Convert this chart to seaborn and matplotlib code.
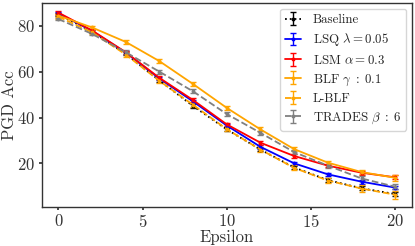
import matplotlib
matplotlib.use("Agg")
import matplotlib.pyplot as plt
import seaborn as sns
import numpy as np

eps = [0, 2, 4, 6, 8, 10, 12, 14, 16, 18, 20]
baseline = [85.0, 77.5, 67.8, 56.2, 45.0, 34.8, 26.0, 18.2, 12.7, 9.1, 6.6]
lsq      = [85.5, 77.8, 68.3, 57.0, 47.0, 36.5, 27.2, 20.0, 15.2, 12.0, 9.4]
lsm      = [85.8, 78.0, 68.5, 57.3, 47.6, 37.0, 29.0, 23.2, 19.0, 15.9, 13.9]
blf      = [84.5, 79.3, 73.0, 64.6, 54.6, 44.2, 34.8, 26.2, 20.3, 16.2, 13.7]
lblf     = [84.0, 77.2, 67.5, 56.0, 45.5, 34.9, 26.0, 18.0, 12.5, 9.0, 6.3]
trades   = [83.0, 76.5, 68.5, 60.0, 51.4, 41.5, 33.3, 24.9, 19.0, 13.4, 9.8]

err_baseline = [0.6, 0.6, 0.7, 0.7, 0.8, 0.8, 0.8, 0.8, 0.8, 0.8, 0.8]
err_lsq      = [0.6, 0.6, 0.7, 0.7, 0.8, 0.8, 0.8, 0.8, 0.8, 0.8, 0.8]
err_lsm      = [0.6, 0.6, 0.7, 0.7, 0.8, 0.8, 0.8, 0.8, 0.8, 0.8, 0.8]
err_blf      = [0.8, 0.8, 0.8, 0.8, 0.9, 0.9, 0.9, 0.9, 0.9, 1.0, 1.2]
err_lblf     = [0.8, 0.8, 0.9, 0.9, 1.0, 1.0, 1.0, 1.1, 1.2, 1.4, 1.8]
err_trades   = [0.6, 0.7, 0.8, 0.8, 0.9, 0.9, 0.9, 0.9, 0.9, 1.0, 1.0]

labels = ["Baseline", r"LSQ $\lambda=0.05$", r"LSM $\alpha=0.3$",
          r"BLF $\gamma\;:\;0.1$", "L-BLF", r"TRADES $\beta\;:\;6$"]

sns.set_theme(style="white")
plt.rcParams.update({
    "font.family": "serif",
    "font.serif": ["cmr10"],
    "mathtext.fontset": "cm",
    "axes.formatter.use_mathtext": True,
    "axes.edgecolor": "#333333",
    "axes.linewidth": 1.0,
    "xtick.bottom": True,
    "ytick.left": True,
    "xtick.major.size": 2.5,
    "ytick.major.size": 2.5,
    "xtick.color": "#333333",
    "ytick.color": "#333333",
})

fig, ax = plt.subplots(figsize=(4.15, 2.46), dpi=100)

series = [
    (baseline, err_baseline, "black", ":"),
    (lsq, err_lsq, "blue", "-"),
    (lsm, err_lsm, "red", "-"),
    (blf, err_blf, "orange", "-"),
    (lblf, err_lblf, "orange", "--"),
    (trades, err_trades, "gray", "--"),
]
for (vals, err, col, ls), lab in zip(series, labels):
    ax.errorbar(eps, vals, yerr=err, color=col, linestyle=ls, linewidth=1.3,
                marker="o", markersize=1.8, capsize=2.5, elinewidth=1.0,
                label=lab)

ax.set_xlim(-1, 21)
ax.set_ylim(1, 90)
ax.set_xticks([0, 5, 10, 15, 20])
ax.set_yticks([20, 40, 60, 80])
ax.tick_params(labelsize=12, colors="#333333", pad=2)
ax.set_xlabel("Epsilon", fontsize=12, color="#333333", labelpad=0)
ax.set_ylabel("PGD Acc", fontsize=12, color="#333333", labelpad=0)
ax.legend(loc="upper right", fontsize=9.3, frameon=True, handlelength=1.25,
          borderaxespad=0.45, labelspacing=0.42, handletextpad=0.9,
          borderpad=0.4)

fig.subplots_adjust(left=0.1, right=0.993, top=0.988, bottom=0.159)
fig.savefig("out.png", dpi=100)
